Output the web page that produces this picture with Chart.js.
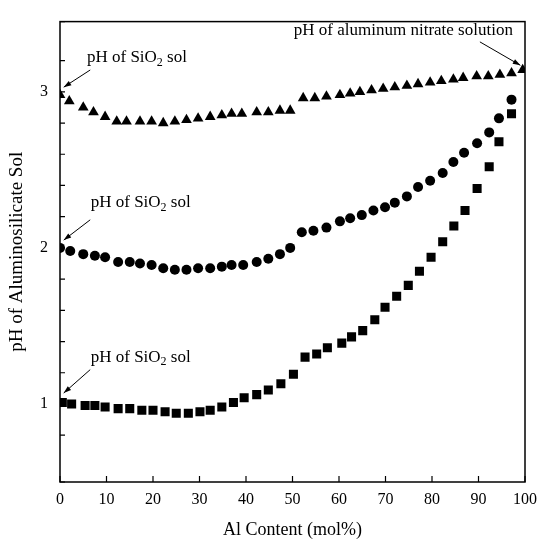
<!DOCTYPE html>
<html>
<head>
<meta charset="utf-8">
<script src="https://cdn.jsdelivr.net/npm/chart.js@4/dist/chart.umd.min.js"></script>
<style>
  html, body { margin: 0; padding: 0; background: #fff; }
  #wrap { width: 547px; height: 547px; }
</style>
</head>
<body>
<div id="wrap"><canvas id="c" width="547" height="547"></canvas></div>
<script>
var triX = [0, 2, 5, 7.2, 9.7, 12.2, 14.3, 17.2, 19.7, 22.2, 24.7, 27.2, 29.7, 32.3, 34.8, 36.9, 39.1, 42.3, 44.8, 47.3, 49.5,
            52.3, 54.8, 57.3, 60.2, 62.4, 64.5, 67, 69.5, 72, 74.6, 77, 79.6, 82, 84.6, 86.7, 89.6, 92.1, 94.6, 97.1, 99.5];
var triY = [2.98, 2.94, 2.90, 2.87, 2.84, 2.81, 2.81, 2.81, 2.81, 2.80, 2.81, 2.82, 2.83, 2.84, 2.85, 2.86, 2.86, 2.87, 2.87, 2.88, 2.88,
            2.96, 2.96, 2.97, 2.98, 2.99, 3.00, 3.01, 3.02, 3.03, 3.04, 3.05, 3.06, 3.07, 3.08, 3.09, 3.10, 3.10, 3.11, 3.12, 3.14];

var cirX = [0, 2.2, 5, 7.5, 9.7, 12.5, 15, 17.2, 19.7, 22.2, 24.7, 27.2, 29.7, 32.3, 34.8, 36.9, 39.4, 42.3, 44.8, 47.3, 49.5,
            52, 54.5, 57.3, 60.2, 62.4, 64.9, 67.4, 69.9, 72, 74.6, 77, 79.6, 82.3, 84.6, 86.9, 89.7, 92.3, 94.4, 97.1];
var cirY = [2.00, 1.98, 1.96, 1.95, 1.94, 1.91, 1.91, 1.90, 1.89, 1.87, 1.86, 1.86, 1.87, 1.87, 1.88, 1.89, 1.89, 1.91, 1.93, 1.96, 2.00,
            2.10, 2.11, 2.13, 2.17, 2.19, 2.21, 2.24, 2.26, 2.29, 2.33, 2.39, 2.43, 2.48, 2.55, 2.61, 2.67, 2.74, 2.83, 2.95];

var sqX = [0.5, 2.5, 5.4, 7.5, 9.7, 12.5, 15, 17.6, 20, 22.6, 25, 27.6, 30.1, 32.3, 34.8, 37.3, 39.6, 42.3, 44.8, 47.5,
           50.2, 52.7, 55.2, 57.5, 60.6, 62.7, 65.1, 67.7, 69.9, 72.4, 74.9, 77.3, 79.8, 82.3, 84.7, 87.1, 89.7, 92.3, 94.4, 97.1];
var sqY = [1.01, 1.00, 0.99, 0.99, 0.98, 0.97, 0.97, 0.96, 0.96, 0.95, 0.94, 0.94, 0.95, 0.96, 0.98, 1.01, 1.04, 1.06, 1.09, 1.13,
           1.19, 1.30, 1.32, 1.36, 1.39, 1.43, 1.47, 1.54, 1.62, 1.69, 1.76, 1.85, 1.94, 2.04, 2.14, 2.24, 2.38, 2.52, 2.68, 2.86];

// annotation texts (parts: [text, subscript?]), anchored in data units, arrow tail -> head
var sio2 = [['pH of SiO', false], ['2', true], [' sol', false]];
var notes = [
  { parts: sio2, x: 5.8, y: 3.22, align: 'left', from: [6.5, 3.14], to: [0.8, 3.03] },
  { parts: sio2, x: 6.6, y: 2.29, align: 'left', from: [6.5, 2.18], to: [0.8, 2.05] },
  { parts: sio2, x: 6.6, y: 1.30, align: 'left', from: [6.5, 1.22], to: [0.8, 1.07] },
  { parts: [['pH of aluminum nitrate solution', false]], x: 97.4, y: 3.39, align: 'right', from: [90.3, 3.32], to: [99, 3.17] }
];

var FONT = '"Liberation Serif", "DejaVu Serif", serif';

function pts(xs, ys) {
  return xs.map(function (x, i) { return { x: x, y: ys[i] }; });
}

var frame = {
  id: 'frame',
  afterDraw: function (chart) {
    var ctx = chart.ctx, a = chart.chartArea;
    var xs = chart.scales.x, ys = chart.scales.y;
    ctx.save();
    ctx.strokeStyle = '#000';
    ctx.lineWidth = 1.5;
    ctx.strokeRect(a.left, a.top, a.right - a.left, a.bottom - a.top);
    ctx.lineWidth = 1.2;
    ctx.beginPath();
    xs.ticks.forEach(function (t) {
      var px = xs.getPixelForValue(t.value);
      ctx.moveTo(px, a.bottom); ctx.lineTo(px, a.bottom - 6);
    });
    ys.ticks.forEach(function (t) {
      var py = ys.getPixelForValue(t.value);
      ctx.moveTo(a.left, py); ctx.lineTo(a.left + 5, py);
    });
    ctx.stroke();

    // annotations with arrows
    ctx.fillStyle = '#000';
    ctx.textBaseline = 'middle';
    ctx.textAlign = 'left';
    notes.forEach(function (n) {
      var widths = n.parts.map(function (p) {
        ctx.font = (p[1] ? '12px ' : '17px ') + FONT;
        return ctx.measureText(p[0]).width;
      });
      var total = widths.reduce(function (s, w) { return s + w; }, 0);
      var tx = xs.getPixelForValue(n.x), ty = ys.getPixelForValue(n.y);
      if (n.align === 'right') tx -= total;
      n.parts.forEach(function (p, i) {
        ctx.font = (p[1] ? '12px ' : '17px ') + FONT;
        ctx.fillText(p[0], tx, p[1] ? ty + 5 : ty);
        tx += widths[i];
      });
      var x1 = xs.getPixelForValue(n.from[0]), y1 = ys.getPixelForValue(n.from[1]);
      var x2 = xs.getPixelForValue(n.to[0]), y2 = ys.getPixelForValue(n.to[1]);
      ctx.lineWidth = 1;
      ctx.beginPath();
      ctx.moveTo(x1, y1); ctx.lineTo(x2, y2);
      ctx.stroke();
      var ang = Math.atan2(y2 - y1, x2 - x1), L = 8, w = 0.32;
      ctx.beginPath();
      ctx.moveTo(x2, y2);
      ctx.lineTo(x2 - L * Math.cos(ang - w), y2 - L * Math.sin(ang - w));
      ctx.lineTo(x2 - L * Math.cos(ang + w), y2 - L * Math.sin(ang + w));
      ctx.closePath();
      ctx.fill();
    });
    ctx.restore();
  }
};

var ctx = document.getElementById('c').getContext('2d');
var chart = new Chart(ctx, {
  type: 'scatter',
  data: {
    datasets: [{
      label: 'triangles',
      data: pts(triX, triY),
      pointStyle: 'triangle',
      pointRadius: 6.2,
      backgroundColor: '#000',
      borderColor: '#000',
      borderWidth: 0
    }, {
      label: 'circles',
      data: pts(cirX, cirY),
      pointStyle: 'circle',
      pointRadius: 5,
      backgroundColor: '#000',
      borderColor: '#000',
      borderWidth: 0
    }, {
      label: 'squares',
      data: pts(sqX, sqY),
      pointStyle: 'rect',
      pointRadius: 6.4,
      backgroundColor: '#000',
      borderColor: '#000',
      borderWidth: 0
    }]
  },
  options: {
    responsive: false,
    animation: false,
    events: [],
    layout: { padding: { top: 15, right: 22, left: 0, bottom: 0 } },
    plugins: {
      legend: { display: false },
      tooltip: { enabled: false }
    },
    scales: {
      x: {
        type: 'linear',
        min: 0,
        max: 100,
        ticks: { stepSize: 10, color: '#000', padding: 8, font: { family: FONT, size: 16 } },
        grid: { display: false, drawTicks: false },
        border: { display: false },
        title: { display: true, text: 'Al Content (mol%)', color: '#000', padding: { top: 0, bottom: 6 },
                 font: { family: FONT, size: 18 } },
        afterFit: function (s) { s.height = 65; }
      },
      y: {
        type: 'linear',
        min: 0.5,
        max: 3.45,
        ticks: {
          stepSize: 0.2,
          color: '#000',
          padding: 12,
          font: { family: FONT, size: 16 },
          autoSkip: false,
          callback: function (v) {
            return Math.abs(v - Math.round(v)) < 1e-6 ? String(Math.round(v)) : '';
          }
        },
        grid: { display: false, drawTicks: false },
        border: { display: false },
        title: { display: true, text: 'pH of Aluminosilicate Sol', color: '#000', padding: { top: 6, bottom: 0 },
                 font: { family: FONT, size: 19 } },
        afterFit: function (s) { s.width = 60; }
      }
    }
  },
  plugins: [frame]
});
</script>
</body>
</html>
